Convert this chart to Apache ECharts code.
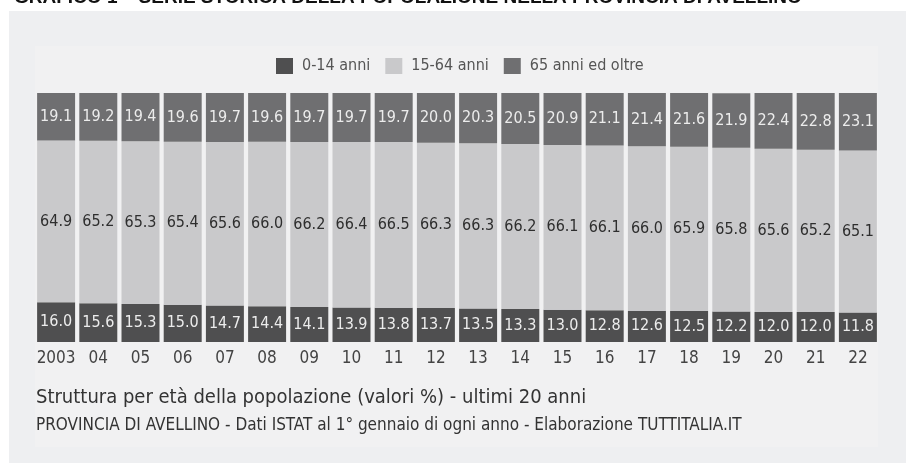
<!DOCTYPE html>
<html>
<head>
<meta charset="utf-8">
<script src="https://cdn.jsdelivr.net/npm/echarts@6/dist/echarts.min.js"></script>
<style>
html,body{margin:0;padding:0;background:#ffffff;}
#chart{width:906px;height:463px;}
</style>
</head>
<body>
<div id="chart"></div>
<script>
var years = ['2003','04','05','06','07','08','09','10','11','12','13','14','15','16','17','18','19','20','21','22'];
var young = [16.0,15.6,15.3,15.0,14.7,14.4,14.1,13.9,13.8,13.7,13.5,13.3,13.0,12.8,12.6,12.5,12.2,12.0,12.0,11.8];
var adult = [64.9,65.2,65.3,65.4,65.6,66.0,66.2,66.4,66.5,66.3,66.3,66.2,66.1,66.1,66.0,65.9,65.8,65.6,65.2,65.1];
var old = [19.1,19.2,19.4,19.6,19.7,19.6,19.7,19.7,19.7,20.0,20.3,20.5,20.9,21.1,21.4,21.6,21.9,22.4,22.8,23.1];
var seriesNames = ['0-14 anni','15-64 anni','65 anni ed oltre'];

var FONT = '"Liberation Sans Narrow","DejaVu Sans Condensed","Roboto Condensed","Liberation Sans",Arial,sans-serif';

var chart = echarts.init(document.getElementById('chart'), null, {renderer:'canvas'});

function fmt(p){ return p.value.toFixed(1); }

var option = {
  backgroundColor: 'transparent',
  animation: false,
  graphic: [
    {type:'rect', z:-10, shape:{x:9,y:11,width:897,height:452}, style:{fill:'#eeeff1'}},
    {type:'rect', z:-9, shape:{x:35,y:46,width:843,height:401}, style:{fill:'#f1f1f2'}},
    {type:'text', x:14, y:-12, style:{text:'GRAFICO 1 – SERIE STORICA DELLA POPOLAZIONE NELLA PROVINCIA DI AVELLINO', fill:'#111', font:'bold 19px "Liberation Sans",Arial,sans-serif', verticalAlign:'top', align:'left'}},
    {type:'text', left:36, top:388, style:{text:'Struttura per età della popolazione (valori %) - ultimi 20 anni', fill:'#333', font:'20px ' + FONT}},
    {type:'text', left:36, top:417, style:{text:'PROVINCIA DI AVELLINO - Dati ISTAT al 1° gennaio di ogni anno - Elaborazione TUTTITALIA.IT', fill:'#333', font:'17px ' + FONT}}
  ],
  legend: {
    data: seriesNames,
    left: 271,
    top: 53,
    itemWidth: 17,
    itemHeight: 16,
    itemGap: 15,
    icon: 'rect',
    textStyle: {color:'#555', fontSize:16, fontFamily:FONT, padding:[0,0,0,4]}
  },
  grid: {left:35, right:27, top:93, bottom:121, containLabel:false},
  xAxis: {
    type:'category',
    data: years,
    axisLine:{show:false},
    axisTick:{show:false},
    axisLabel:{color:'#444', fontSize:17, fontFamily:FONT, margin:8, interval:0}
  },
  yAxis: {
    type:'value', min:0, max:100,
    show:false
  },
  series: [
    {name:seriesNames[0], type:'bar', stack:'a', data:young, barCategoryGap:'10%',
     itemStyle:{color:'#4f4f50'},
     label:{show:true, position:'inside', formatter:fmt, color:'#ececec', fontSize:16, fontFamily:FONT}},
    {name:seriesNames[1], type:'bar', stack:'a', data:adult,
     itemStyle:{color:'#c9c9cb'},
     label:{show:true, position:'inside', formatter:fmt, color:'#2e2e2e', fontSize:16, fontFamily:FONT}},
    {name:seriesNames[2], type:'bar', stack:'a', data:old,
     itemStyle:{color:'#6f6f71'},
     label:{show:true, position:'inside', formatter:fmt, color:'#ececec', fontSize:16, fontFamily:FONT}}
  ]
};
chart.setOption(option);
</script>
</body>
</html>
